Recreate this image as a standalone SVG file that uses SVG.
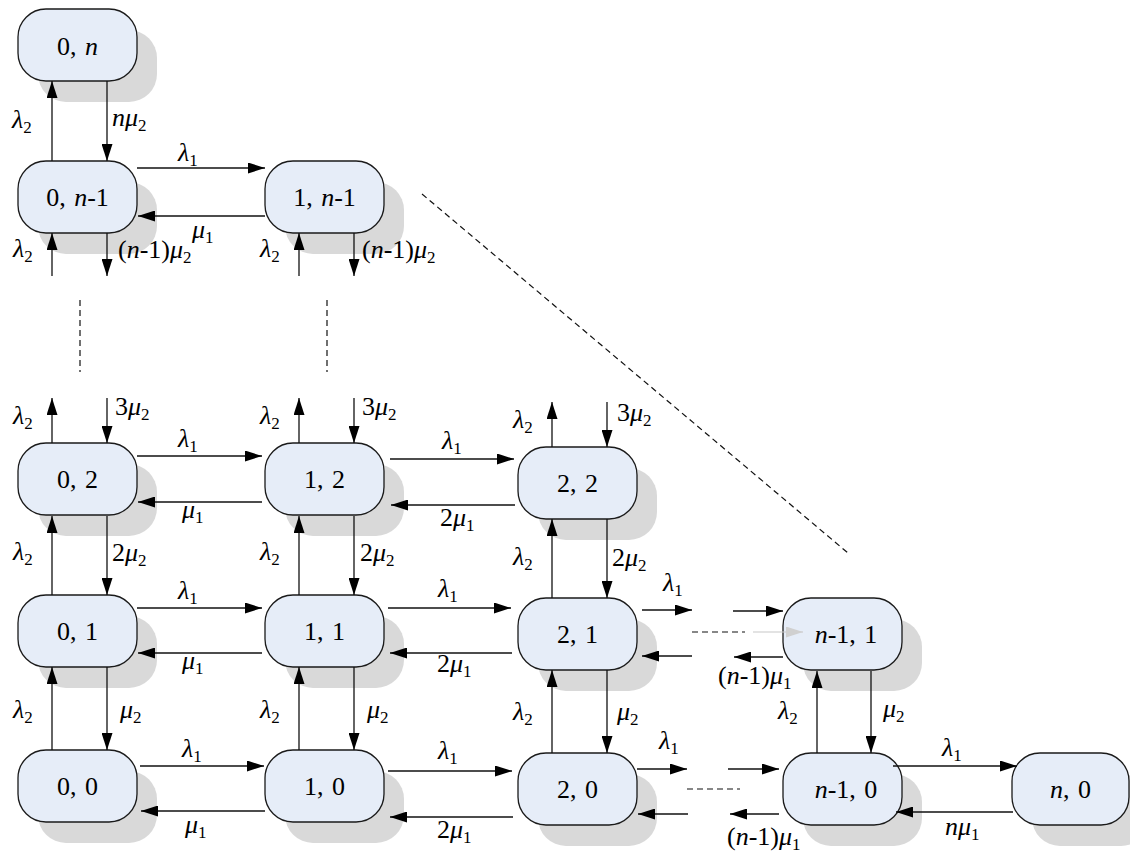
<svg xmlns="http://www.w3.org/2000/svg" width="1130" height="853" viewBox="0 0 1130 853">
<style>
.sh{fill:#d9d9d9;stroke:none}
.nd{fill:#e6edf8;stroke:#1a1a1a;stroke-width:1.3}
.nt{text-anchor:middle;fill:#000;word-spacing:2px}
.lb{fill:#000}
.i{font-style:italic}
.s{font-size:17px}
.ar{stroke:#111;stroke-width:1.3;fill:none;marker-end:url(#ah)}
.ln{stroke:#111;stroke-width:1.2;fill:none;stroke-dasharray:6 4}
.lg{stroke:#c8c8c8;stroke-width:1.2;fill:none;marker-end:url(#ahg)}
</style>
<defs>
<marker id="ah" markerUnits="userSpaceOnUse" markerWidth="17" markerHeight="11" refX="17" refY="5.5" orient="auto"><path d="M0,0 L17,5.5 L0,11 z" fill="#000"/></marker>
<marker id="ahg" markerUnits="userSpaceOnUse" markerWidth="17" markerHeight="11" refX="17" refY="5.5" orient="auto"><path d="M0,0 L17,5.5 L0,11 z" fill="#d0d0d0"/></marker>
</defs>
<rect width="1130" height="853" fill="#fff"/>

<g id="nodes" font-family="'Liberation Serif', 'Times New Roman', serif" font-size="26">
<g id="n_0_n"><rect class="sh" x="38" y="30" width="119" height="72" rx="28"/><rect class="nd" x="18" y="9" width="119" height="72" rx="28"/><text class="nt" x="77.5" y="55">0, <tspan class="i">n</tspan></text></g>
<g id="n_0_nm1"><rect class="sh" x="38" y="182" width="119" height="72" rx="28"/><rect class="nd" x="18" y="161" width="119" height="72" rx="28"/><text class="nt" x="77.5" y="206">0, <tspan class="i">n</tspan>-1</text></g>
<g id="n_1_nm1"><rect class="sh" x="285" y="182" width="119" height="72" rx="28"/><rect class="nd" x="265" y="161" width="119" height="72" rx="28"/><text class="nt" x="324.5" y="206">1, <tspan class="i">n</tspan>-1</text></g>
<g id="n_0_2"><rect class="sh" x="38" y="464" width="119" height="72" rx="28"/><rect class="nd" x="18" y="443" width="119" height="72" rx="28"/><text class="nt" x="77.5" y="488">0, 2</text></g>
<g id="n_1_2"><rect class="sh" x="285" y="464" width="119" height="72" rx="28"/><rect class="nd" x="265" y="443" width="119" height="72" rx="28"/><text class="nt" x="324.5" y="488">1, 2</text></g>
<g id="n_2_2"><rect class="sh" x="538" y="468" width="119" height="72" rx="28"/><rect class="nd" x="518" y="447" width="119" height="72" rx="28"/><text class="nt" x="577.5" y="492">2, 2</text></g>
<g id="n_0_1"><rect class="sh" x="38" y="616" width="119" height="72" rx="28"/><rect class="nd" x="18" y="595" width="119" height="72" rx="28"/><text class="nt" x="77.5" y="640">0, 1</text></g>
<g id="n_1_1"><rect class="sh" x="285" y="616" width="119" height="72" rx="28"/><rect class="nd" x="265" y="595" width="119" height="72" rx="28"/><text class="nt" x="324.5" y="640">1, 1</text></g>
<g id="n_2_1"><rect class="sh" x="538" y="619" width="119" height="72" rx="28"/><rect class="nd" x="518" y="598" width="119" height="72" rx="28"/><text class="nt" x="577.5" y="643">2, 1</text></g>
<g id="n_nm1_1"><rect class="sh" x="803" y="619" width="119" height="72" rx="28"/><rect class="nd" x="783" y="598" width="119" height="72" rx="28"/><text class="nt" x="846" y="643"><tspan class="i">n</tspan>-1, 1</text></g>
<g id="n_0_0"><rect class="sh" x="38" y="771" width="119" height="72" rx="28"/><rect class="nd" x="18" y="750" width="119" height="72" rx="28"/><text class="nt" x="77.5" y="795">0, 0</text></g>
<g id="n_1_0"><rect class="sh" x="285" y="771" width="119" height="72" rx="28"/><rect class="nd" x="265" y="750" width="119" height="72" rx="28"/><text class="nt" x="324.5" y="795">1, 0</text></g>
<g id="n_2_0"><rect class="sh" x="538" y="774" width="119" height="72" rx="28"/><rect class="nd" x="518" y="753" width="119" height="72" rx="28"/><text class="nt" x="577.5" y="798">2, 0</text></g>
<g id="n_nm1_0"><rect class="sh" x="803" y="774" width="119" height="72" rx="28"/><rect class="nd" x="783" y="753" width="119" height="72" rx="28"/><text class="nt" x="846" y="798"><tspan class="i">n</tspan>-1, 0</text></g>
<g id="n_n_0"><rect class="sh" x="1032" y="774" width="117" height="72" rx="28"/><rect class="nd" x="1012" y="753" width="117" height="72" rx="28"/><text class="nt" x="1070.5" y="798"><tspan class="i">n</tspan>, 0</text></g>
</g>

<g id="connectors">
<line class="ar" x1="52" y1="161" x2="52" y2="81"/>
<line class="ar" x1="107" y1="81" x2="107" y2="161"/>
<line class="ar" x1="52" y1="276" x2="52" y2="233"/>
<line class="ar" x1="107" y1="233" x2="107" y2="276"/>
<line class="ar" x1="52" y1="443" x2="52" y2="398"/>
<line class="ar" x1="107" y1="398" x2="107" y2="443"/>
<line class="ar" x1="52" y1="595" x2="52" y2="516"/>
<line class="ar" x1="107" y1="516" x2="107" y2="595"/>
<line class="ar" x1="52" y1="750" x2="52" y2="667"/>
<line class="ar" x1="107" y1="667" x2="107" y2="750"/>
<line class="ar" x1="299" y1="276" x2="299" y2="233"/>
<line class="ar" x1="354" y1="233" x2="354" y2="276"/>
<line class="ar" x1="299" y1="443" x2="299" y2="398"/>
<line class="ar" x1="354" y1="398" x2="354" y2="443"/>
<line class="ar" x1="299" y1="595" x2="299" y2="516"/>
<line class="ar" x1="354" y1="516" x2="354" y2="595"/>
<line class="ar" x1="299" y1="750" x2="299" y2="667"/>
<line class="ar" x1="354" y1="667" x2="354" y2="750"/>
<line class="ar" x1="552" y1="447" x2="552" y2="402"/>
<line class="ar" x1="607" y1="402" x2="607" y2="447"/>
<line class="ar" x1="552" y1="598" x2="552" y2="519"/>
<line class="ar" x1="607" y1="519" x2="607" y2="598"/>
<line class="ar" x1="552" y1="753" x2="552" y2="670"/>
<line class="ar" x1="607" y1="670" x2="607" y2="753"/>
<line class="ar" x1="817" y1="753" x2="817" y2="671"/>
<line class="ar" x1="871" y1="671" x2="871" y2="753"/>
<line class="ar" x1="137" y1="168" x2="265" y2="168"/>
<line class="ar" x1="265" y1="216" x2="138" y2="216"/>
<line class="ar" x1="137" y1="456" x2="262" y2="456"/>
<line class="ar" x1="262" y1="502" x2="138" y2="502"/>
<line class="ar" x1="390" y1="459" x2="514" y2="459"/>
<line class="ar" x1="515" y1="505" x2="391" y2="505"/>
<line class="ar" x1="137" y1="608" x2="262" y2="608"/>
<line class="ar" x1="262" y1="653" x2="138" y2="653"/>
<line class="ar" x1="388" y1="608" x2="511" y2="608"/>
<line class="ar" x1="512" y1="653" x2="390" y2="653"/>
<line class="ar" x1="642" y1="610" x2="692" y2="610"/>
<line class="ar" x1="733" y1="611" x2="783" y2="611"/>
<line class="ar" x1="692" y1="656" x2="642" y2="656"/>
<line class="ar" x1="783" y1="657" x2="734" y2="657"/>
<line class="ln" x1="692" y1="632" x2="745" y2="632"/>
<line class="lg" x1="753" y1="632" x2="803" y2="632"/>
<line class="ar" x1="140" y1="766" x2="264" y2="766"/>
<line class="ar" x1="265" y1="811" x2="141" y2="811"/>
<line class="ar" x1="388" y1="771" x2="512" y2="771"/>
<line class="ar" x1="513" y1="817" x2="390" y2="817"/>
<line class="ar" x1="637" y1="769" x2="687" y2="769"/>
<line class="ar" x1="728" y1="769" x2="779" y2="769"/>
<line class="ar" x1="688" y1="814" x2="638" y2="814"/>
<line class="ar" x1="779" y1="814" x2="730" y2="814"/>
<line class="ln" x1="687" y1="789" x2="740" y2="789"/>
<line class="ar" x1="893" y1="766" x2="1017" y2="766"/>
<line class="ar" x1="1013" y1="812" x2="896" y2="812"/>
<line class="ln" x1="80" y1="300" x2="80" y2="372"/>
<line class="ln" x1="327" y1="300" x2="327" y2="372"/>
<line class="ln" x1="422" y1="194" x2="848" y2="553"/>
</g>

<g id="labels" class="lb" font-family="'Liberation Serif', 'Times New Roman', serif" font-size="26">
<text x="12" y="128"><tspan class="i">λ</tspan><tspan class="s" dy="5">2</tspan></text>
<text x="112" y="126"><tspan class="i">nμ</tspan><tspan class="s" dy="5">2</tspan></text>
<text x="178" y="161"><tspan class="i">λ</tspan><tspan class="s" dy="5">1</tspan></text>
<text x="192" y="238"><tspan class="i">μ</tspan><tspan class="s" dy="5">1</tspan></text>
<text x="13" y="257"><tspan class="i">λ</tspan><tspan class="s" dy="5">2</tspan></text>
<text x="118" y="258">(<tspan class="i">n</tspan>-1)<tspan class="i">μ</tspan><tspan class="s" dy="5">2</tspan></text>
<text x="260" y="257"><tspan class="i">λ</tspan><tspan class="s" dy="5">2</tspan></text>
<text x="362" y="258">(<tspan class="i">n</tspan>-1)<tspan class="i">μ</tspan><tspan class="s" dy="5">2</tspan></text>

<text x="13" y="424"><tspan class="i">λ</tspan><tspan class="s" dy="5">2</tspan></text>
<text x="115" y="415">3<tspan class="i">μ</tspan><tspan class="s" dy="5">2</tspan></text>
<text x="260" y="424"><tspan class="i">λ</tspan><tspan class="s" dy="5">2</tspan></text>
<text x="362" y="415">3<tspan class="i">μ</tspan><tspan class="s" dy="5">2</tspan></text>
<text x="513" y="428"><tspan class="i">λ</tspan><tspan class="s" dy="5">2</tspan></text>
<text x="617" y="421">3<tspan class="i">μ</tspan><tspan class="s" dy="5">2</tspan></text>

<text x="178" y="447"><tspan class="i">λ</tspan><tspan class="s" dy="5">1</tspan></text>
<text x="182" y="518"><tspan class="i">μ</tspan><tspan class="s" dy="5">1</tspan></text>
<text x="442" y="449"><tspan class="i">λ</tspan><tspan class="s" dy="5">1</tspan></text>
<text x="440" y="526">2<tspan class="i">μ</tspan><tspan class="s" dy="5">1</tspan></text>

<text x="13" y="560"><tspan class="i">λ</tspan><tspan class="s" dy="5">2</tspan></text>
<text x="112" y="561">2<tspan class="i">μ</tspan><tspan class="s" dy="5">2</tspan></text>
<text x="260" y="560"><tspan class="i">λ</tspan><tspan class="s" dy="5">2</tspan></text>
<text x="360" y="561">2<tspan class="i">μ</tspan><tspan class="s" dy="5">2</tspan></text>
<text x="513" y="565"><tspan class="i">λ</tspan><tspan class="s" dy="5">2</tspan></text>
<text x="612" y="566">2<tspan class="i">μ</tspan><tspan class="s" dy="5">2</tspan></text>

<text x="178" y="599"><tspan class="i">λ</tspan><tspan class="s" dy="5">1</tspan></text>
<text x="182" y="669"><tspan class="i">μ</tspan><tspan class="s" dy="5">1</tspan></text>
<text x="438" y="597"><tspan class="i">λ</tspan><tspan class="s" dy="5">1</tspan></text>
<text x="437" y="672">2<tspan class="i">μ</tspan><tspan class="s" dy="5">1</tspan></text>
<text x="663" y="591"><tspan class="i">λ</tspan><tspan class="s" dy="5">1</tspan></text>
<text x="718" y="684">(<tspan class="i">n</tspan>-1)<tspan class="i">μ</tspan><tspan class="s" dy="5">1</tspan></text>

<text x="13" y="718"><tspan class="i">λ</tspan><tspan class="s" dy="5">2</tspan></text>
<text x="120" y="718"><tspan class="i">μ</tspan><tspan class="s" dy="5">2</tspan></text>
<text x="260" y="718"><tspan class="i">λ</tspan><tspan class="s" dy="5">2</tspan></text>
<text x="367" y="718"><tspan class="i">μ</tspan><tspan class="s" dy="5">2</tspan></text>
<text x="513" y="720"><tspan class="i">λ</tspan><tspan class="s" dy="5">2</tspan></text>
<text x="617" y="720"><tspan class="i">μ</tspan><tspan class="s" dy="5">2</tspan></text>
<text x="778" y="719"><tspan class="i">λ</tspan><tspan class="s" dy="5">2</tspan></text>
<text x="883" y="717"><tspan class="i">μ</tspan><tspan class="s" dy="5">2</tspan></text>

<text x="182" y="757"><tspan class="i">λ</tspan><tspan class="s" dy="5">1</tspan></text>
<text x="185" y="833"><tspan class="i">μ</tspan><tspan class="s" dy="5">1</tspan></text>
<text x="438" y="759"><tspan class="i">λ</tspan><tspan class="s" dy="5">1</tspan></text>
<text x="437" y="838">2<tspan class="i">μ</tspan><tspan class="s" dy="5">1</tspan></text>
<text x="659" y="749"><tspan class="i">λ</tspan><tspan class="s" dy="5">1</tspan></text>
<text x="727" y="845">(<tspan class="i">n</tspan>-1)<tspan class="i">μ</tspan><tspan class="s" dy="5">1</tspan></text>
<text x="942" y="756"><tspan class="i">λ</tspan><tspan class="s" dy="5">1</tspan></text>
<text x="945" y="835"><tspan class="i">nμ</tspan><tspan class="s" dy="5">1</tspan></text>
</g>
</svg>
